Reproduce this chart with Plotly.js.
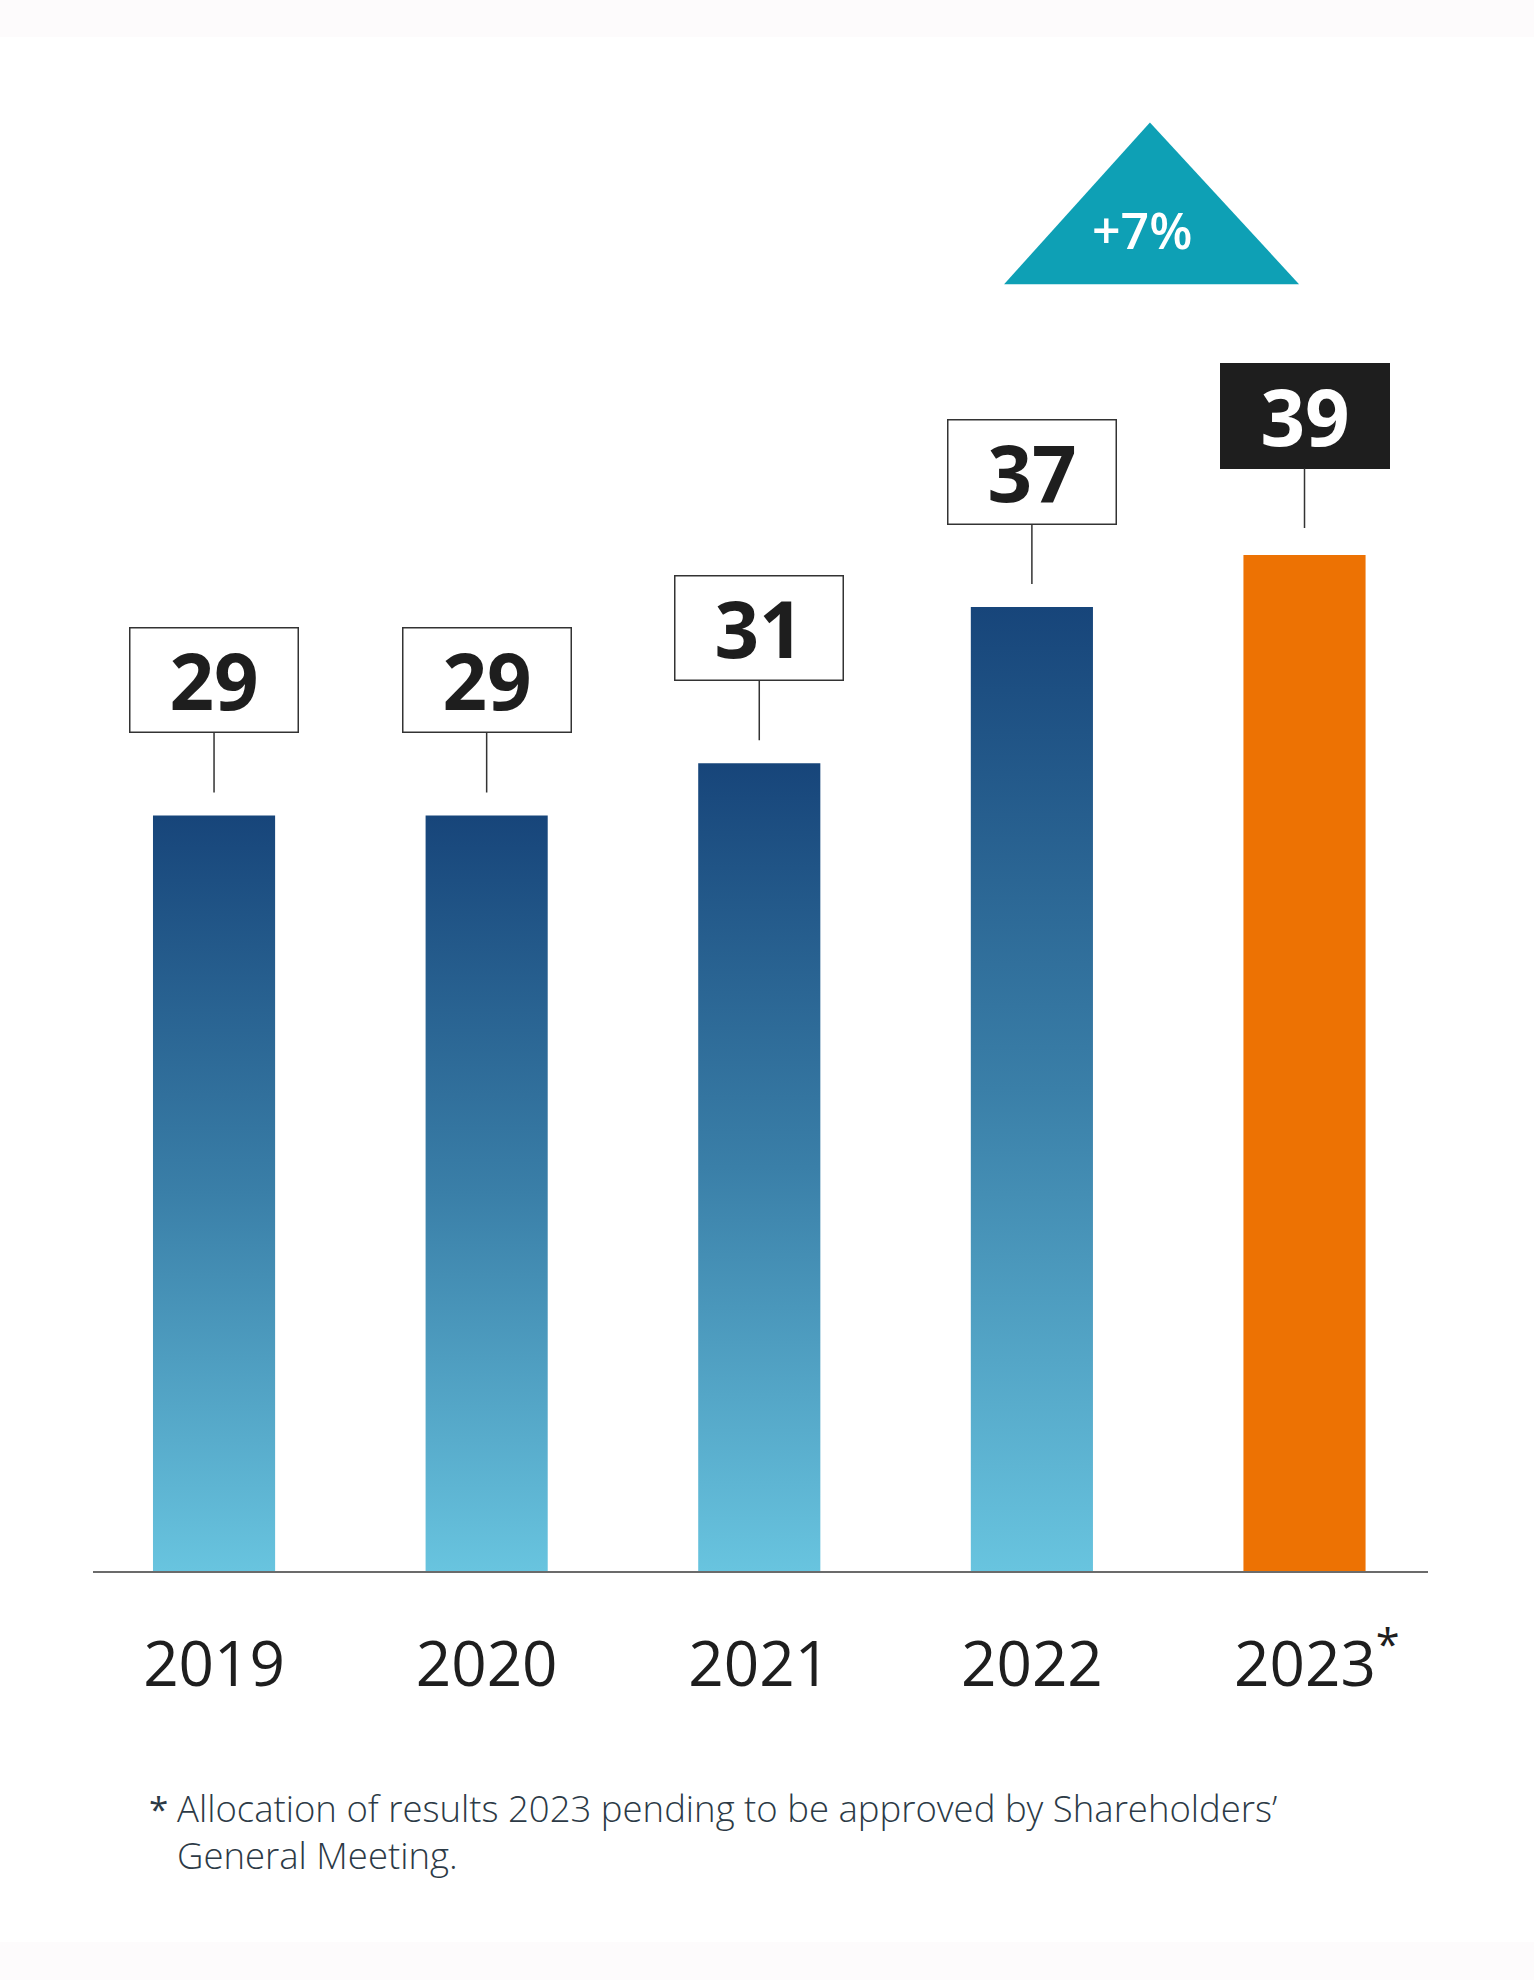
<!DOCTYPE html>
<html>
<head>
<meta charset="utf-8">
<script src="https://cdn.plot.ly/plotly-3.0.1.min.js"></script>
<style>
  html, body { margin: 0; padding: 0; background: #ffffff; }
  #chart { width: 1534px; height: 1980px; }
</style>
</head>
<body>
<div id="chart"></div>
<script>
// ---- data ----
const years = ['2019', '2020', '2021', '2022', '2023'];
const tickLabels = ['2019', '2020', '2021', '2022', '<sup>\u2007</sup>2023<sup>*</sup>'];
const values = [29, 29, 31, 37, 39];
const useGradient = [true, true, true, true, false];
const barColors = ['#2F78A6', '#2F78A6', '#2F78A6', '#2F78A6', '#ED7203'];
const labelFill = ['#FFFFFF', '#FFFFFF', '#FFFFFF', '#FFFFFF', '#1E1E1E'];
const labelBorder = ['#333333', '#333333', '#333333', '#333333', '#1E1E1E'];
const labelTextColor = ['#1E1E1E', '#1E1E1E', '#1E1E1E', '#1E1E1E', '#FFFFFF'];
const growthLabel = '+7%';
const footnoteMark = '*';
const footnoteText = 'Allocation of results 2023 pending to be approved by Shareholders’<br>General Meeting.';
const gradientStops = [['0', '#17457A'], ['0.5', '#3A7FA8'], ['1', '#68C4DF']];

const xIdx = years.map((_, i) => i);
const FONT = '"Open Sans", "Noto Sans", sans-serif';

const barTrace = {
  type: 'bar',
  x: xIdx,
  y: values,
  width: 0.448,
  marker: { color: barColors, line: { width: 0 } },
  hoverinfo: 'skip'
};

const annotations = values.map((v, i) => ({
  x: xIdx[i], y: v, xref: 'x', yref: 'y',
  text: '<b>' + v + '</b>',
  showarrow: true, arrowhead: 0, arrowwidth: 1.5, arrowcolor: '#333333',
  ax: 0, ay: (i === values.length - 1 ? -139 : -135), axref: 'pixel', ayref: 'pixel',
  standoff: (i === values.length - 1 ? 27 : 23),
  width: 167, height: 103, borderpad: 0,
  bgcolor: labelFill[i], bordercolor: labelBorder[i], borderwidth: 1.5,
  valign: 'middle', align: 'center',
  font: { family: FONT, size: 78, color: labelTextColor[i] }
}));

annotations.push({
  x: 3.404, y: 51.46, xref: 'x', yref: 'y',
  text: growthLabel, showarrow: false,
  xanchor: 'center', yanchor: 'middle',
  font: { family: FONT, size: 50, color: '#FFFFFF', weight: 600 }
});

annotations.push({
  x: 0.0404, y: -0.1631, xref: 'paper', yref: 'paper',
  text: footnoteMark, showarrow: false, xanchor: 'left', yanchor: 'middle',
  font: { family: FONT, size: 35, color: '#2C3A46' }
});
annotations.push({
  x: 0.0614, y: -0.1785, xref: 'paper', yref: 'paper',
  text: footnoteText, showarrow: false, xanchor: 'left', yanchor: 'middle', align: 'left',
  font: { family: FONT, size: 36.5, color: '#2C3A46', weight: 300 }
});

const shapes = [
  { type: 'path', xref: 'x', yref: 'y',
    path: 'M3.433,55.6 L2.898,49.39 L3.980,49.39 Z',
    fillcolor: '#0EA0B5', line: { width: 0 }, layer: 'below' },
  { type: 'rect', xref: 'paper', yref: 'paper', x0: -0.1, x1: 1.1, y0: 1.0514, y1: 1.09,
    fillcolor: '#FDFBFC', line: { width: 0 }, layer: 'below' },
  { type: 'rect', xref: 'paper', yref: 'paper', x0: -0.1, x1: 1.1, y0: -0.2543, y1: -0.29,
    fillcolor: '#FDFBFC', line: { width: 0 }, layer: 'below' }
];

const layout = {
  width: 1534, height: 1980,
  margin: { l: 93, r: 106, t: 112, b: 409 },
  paper_bgcolor: '#FFFFFF', plot_bgcolor: '#FFFFFF',
  showlegend: false,
  xaxis: {
    range: [-0.444, 4.453], tickvals: xIdx, ticktext: tickLabels,
    showline: true, linecolor: '#6B6B6B', linewidth: 1.5,
    showgrid: false, zeroline: false, ticks: '', ticklabelstandoff: 39,
    tickfont: { family: FONT, size: 62, color: '#1E1E1E' }, fixedrange: true
  },
  yaxis: {
    range: [0, 56], visible: false, showgrid: false, zeroline: false, fixedrange: true
  },
  annotations: annotations,
  shapes: shapes
};

const gd = document.getElementById('chart');
Plotly.newPlot(gd, [barTrace], layout, { displayModeBar: false, staticPlot: true }).then(() => {
  const svg = gd.querySelector('svg.main-svg');
  const ns = 'http://www.w3.org/2000/svg';
  let defs = svg.querySelector('defs');
  if (!defs) { defs = document.createElementNS(ns, 'defs'); svg.insertBefore(defs, svg.firstChild); }
  const grad = document.createElementNS(ns, 'linearGradient');
  grad.setAttribute('id', 'barGrad');
  grad.setAttribute('x1', '0'); grad.setAttribute('y1', '0');
  grad.setAttribute('x2', '0'); grad.setAttribute('y2', '1');
  gradientStops.forEach(([off, col]) => {
    const s = document.createElementNS(ns, 'stop');
    s.setAttribute('offset', off); s.setAttribute('stop-color', col);
    grad.appendChild(s);
  });
  defs.appendChild(grad);
  const paths = gd.querySelectorAll('.trace.bars .point path');
  paths.forEach((p, i) => { if (useGradient[i]) p.style.fill = 'url(#barGrad)'; });
});
</script>
</body>
</html>
